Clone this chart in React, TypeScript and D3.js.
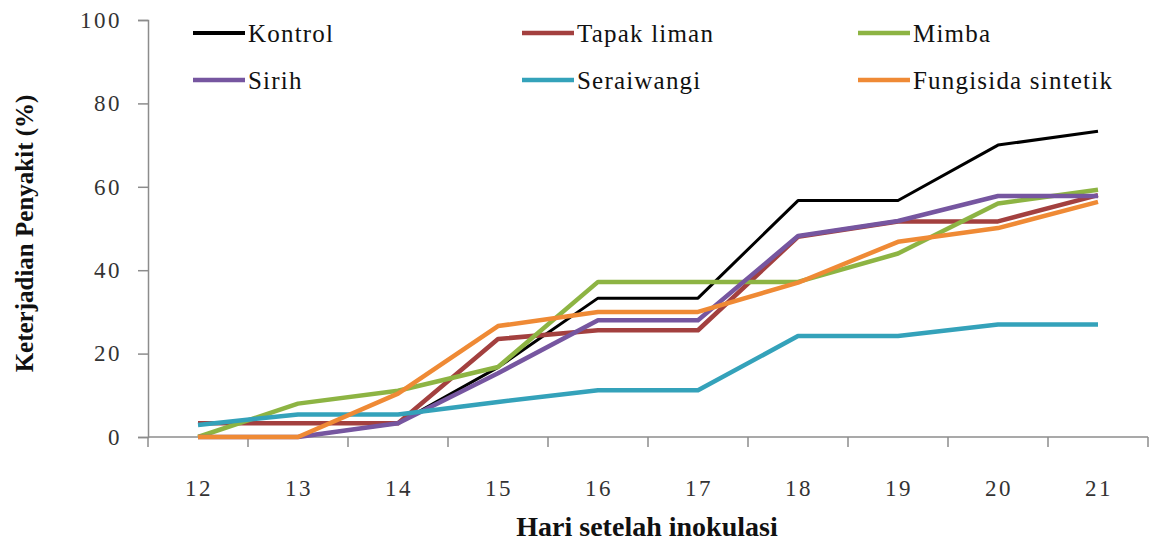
import { useEffect, useRef } from 'react';
import * as d3 from 'd3';

const days = ['12', '13', '14', '15', '16', '17', '18', '19', '20', '21'];
const yTicks = [0, 20, 40, 60, 80, 100];

const kontrol = [0, 0, 3.3, 16.7, 33.3, 33.3, 56.7, 56.7, 70, 73.3];
const tapakLiman = [3.3, 3.3, 3.3, 23.5, 25.6, 25.6, 48, 51.7, 51.7, 58];
const mimba = [0, 8, 11.1, 16.8, 37.2, 37.2, 37.2, 44, 56, 59.3];
const sirih = [0, 0, 3.3, 15.3, 28, 28, 48.2, 51.8, 57.8, 57.8];
const seraiwangi = [2.9, 5.4, 5.4, 8.4, 11.2, 11.2, 24.2, 24.2, 27, 27];
const fungisida = [0, 0, 10.4, 26.6, 30, 30, 37, 46.8, 50.1, 56.4];

const seriesNames = ['Kontrol', 'Tapak liman', 'Mimba', 'Sirih', 'Seraiwangi', 'Fungisida sintetik'];
const seriesColors = ['#000000', '#a3403f', '#8db443', '#7656a0', '#34a2ba', '#ef8a35'];

export default function App() {
  const svgRef = useRef<SVGSVGElement>(null);

  useEffect(() => {
    if (!svgRef.current) return;
    const svg = d3.select(svgRef.current);
    svg.selectAll('*').remove();

    const width = 1149;
    const height = 547;
    const margin = { top: 20, right: 1, bottom: 110, left: 148 };
    const innerWidth = width - margin.left - margin.right;
    const innerHeight = height - margin.top - margin.bottom;
    const font = '"Liberation Serif", "Times New Roman", serif';
    const axisColor = '#8c8c8c';

    const g = svg.append('g').attr('transform', `translate(${margin.left},${margin.top})`);

    const x = d3.scaleBand().domain(days).range([0, innerWidth]);
    const y = d3.scaleLinear().domain([0, 100]).range([innerHeight, 0]);

    // y axis
    const yAxis = g.append('g').call(d3.axisLeft(y).tickValues(yTicks).tickSize(10).tickPadding(16));
    yAxis.select('.domain').attr('stroke', axisColor).attr('stroke-width', 1.5);
    yAxis.selectAll('.tick line').attr('stroke', axisColor).attr('stroke-width', 1.5);
    yAxis.selectAll('text')
      .style('font-family', font)
      .style('font-size', '23px')
      .style('letter-spacing', '2.5px')
      .attr('fill', '#333');

    // x axis with ticks at band edges
    const xAxis = g.append('g').attr('transform', `translate(0,${innerHeight})`);
    xAxis.append('line')
      .attr('x1', 0).attr('x2', innerWidth)
      .attr('stroke', axisColor).attr('stroke-width', 1.5);
    const edges = days.map((d) => x(d)!).concat([innerWidth]);
    xAxis.selectAll('line.tk')
      .data(edges)
      .join('line')
      .attr('class', 'tk')
      .attr('x1', (d) => d).attr('x2', (d) => d)
      .attr('y1', 0).attr('y2', 10)
      .attr('stroke', axisColor).attr('stroke-width', 1.5);
    xAxis.selectAll('text.lbl')
      .data(days)
      .join('text')
      .attr('class', 'lbl')
      .attr('x', (d) => x(d)! + x.bandwidth() / 2 + 1)
      .attr('y', 59)
      .attr('text-anchor', 'middle')
      .style('font-family', font)
      .style('font-size', '23px')
      .style('letter-spacing', '2.5px')
      .attr('fill', '#333')
      .text((d) => d);

    // axis titles
    svg.append('text')
      .attr('x', margin.left + innerWidth / 2 - 1)
      .attr('y', 536)
      .attr('text-anchor', 'middle')
      .style('font-family', font)
      .style('font-weight', 'bold')
      .style('font-size', '28px')
      .attr('fill', '#111')
      .text('Hari setelah inokulasi');

    svg.append('text')
      .attr('transform', `translate(33,${margin.top + innerHeight / 2 + 5}) rotate(-90)`)
      .attr('text-anchor', 'middle')
      .style('font-family', font)
      .style('font-weight', 'bold')
      .style('font-size', '25px')
      .attr('fill', '#111')
      .text('Keterjadian Penyakit (%)');

    // lines, in series order (last one on top)
    const allSeries = [kontrol, tapakLiman, mimba, sirih, seraiwangi, fungisida];
    const line = d3
      .line<number>()
      .x((_, i) => x(days[i])! + x.bandwidth() / 2)
      .y((d) => y(d));

    allSeries.forEach((values, idx) => {
      g.append('path')
        .datum(values)
        .attr('d', line)
        .attr('fill', 'none')
        .attr('stroke', seriesColors[idx])
        .attr('stroke-width', idx === 0 ? 3 : 4.5)
        .attr('stroke-linejoin', 'round');
    });

    // legend
    const legendX = [193, 522, 858];
    const legendY = [33, 80];
    seriesNames.forEach((name, idx) => {
      const col = idx % 3;
      const row = Math.floor(idx / 3);
      const lg = svg.append('g').attr('transform', `translate(${legendX[col]},${legendY[row]})`);
      lg.append('line')
        .attr('x1', 0).attr('x2', 52)
        .attr('stroke', seriesColors[idx])
        .attr('stroke-width', idx === 0 ? 4 : 4.5);
      lg.append('text')
        .attr('x', 55)
        .attr('y', 9)
        .style('font-family', font)
        .style('font-size', '25px')
        .style('letter-spacing', '1.2px')
        .attr('fill', '#111')
        .text(name);
    });
  }, []);

  return (
    <svg
      ref={svgRef}
      width={1149}
      height={547}
      style={{ position: 'absolute', left: 0, top: 0, background: '#fff' }}
    />
  );
}
